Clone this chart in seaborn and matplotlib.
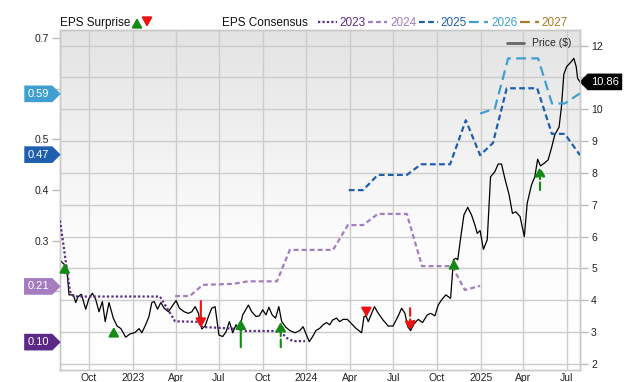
import matplotlib

matplotlib.use("Agg")

import matplotlib.dates as mdates
import matplotlib.pyplot as plt
import numpy as np
import pandas as pd
import seaborn as sns
from matplotlib.colors import LinearSegmentedColormap
from matplotlib.lines import Line2D
from matplotlib.path import Path
from matplotlib.transforms import blended_transform_factory


# weekly-ish closing price
price_dates = [
    "2022-08-01", "2022-08-04", "2022-08-15", "2022-08-20", "2022-08-29", "2022-09-03", "2022-09-08",
    "2022-09-15", "2022-09-24", "2022-10-01", "2022-10-08", "2022-10-15", "2022-10-22", "2022-10-29",
    "2022-11-04", "2022-11-12", "2022-11-21", "2022-11-29", "2022-12-07", "2022-12-17", "2022-12-26",
    "2023-01-06", "2023-01-14", "2023-01-20", "2023-01-28", "2023-02-04", "2023-02-10", "2023-02-15",
    "2023-02-22", "2023-03-01", "2023-03-08", "2023-03-17", "2023-03-24", "2023-04-02", "2023-04-09",
    "2023-04-19", "2023-04-28", "2023-05-05", "2023-05-12", "2023-05-19", "2023-05-26", "2023-06-02",
    "2023-06-09", "2023-06-16", "2023-06-23", "2023-07-01", "2023-07-09", "2023-07-16", "2023-07-23",
    "2023-07-30", "2023-08-06", "2023-08-13", "2023-08-20", "2023-09-01", "2023-09-08", "2023-09-17",
    "2023-09-24", "2023-10-01", "2023-10-08", "2023-10-14", "2023-10-21", "2023-10-28", "2023-11-04",
    "2023-11-10", "2023-11-19", "2023-11-27", "2023-12-08", "2023-12-18", "2023-12-25",
    "2024-01-01", "2024-01-07", "2024-01-14", "2024-01-21", "2024-01-29", "2024-02-05", "2024-02-12",
    "2024-02-19", "2024-02-25", "2024-03-04", "2024-03-11", "2024-03-18", "2024-03-27", "2024-04-05",
    "2024-04-14", "2024-04-26", "2024-05-01", "2024-05-05", "2024-05-10", "2024-05-17", "2024-05-23",
    "2024-05-31", "2024-06-10", "2024-06-21", "2024-07-01", "2024-07-12", "2024-07-19", "2024-07-26",
    "2024-08-01", "2024-08-07", "2024-08-14", "2024-08-23", "2024-09-01", "2024-09-11", "2024-09-18",
    "2024-09-27", "2024-10-04", "2024-10-11", "2024-10-20", "2024-10-30", "2024-11-05", "2024-11-10",
    "2024-11-14", "2024-11-21", "2024-11-27", "2024-12-05", "2024-12-13", "2024-12-20", "2024-12-25",
    "2024-12-31",
    "2025-01-07", "2025-01-15", "2025-01-22", "2025-01-31", "2025-02-07", "2025-02-14", "2025-02-21",
    "2025-03-02", "2025-03-09", "2025-03-16", "2025-03-25", "2025-04-03", "2025-04-09", "2025-04-18",
    "2025-04-25", "2025-05-01", "2025-05-07", "2025-05-16", "2025-05-23", "2025-05-30", "2025-06-06",
    "2025-06-15", "2025-06-20", "2025-06-25", "2025-07-01", "2025-07-11", "2025-07-16", "2025-07-21",
    "2025-07-24", "2025-07-29",
]
price_values = [
    5.25, 5.21, 5.06, 4.17, 4.17, 3.93, 4.11,
    4.19, 3.72, 4.06, 4.22, 4.03, 3.64, 3.96,
    3.33, 3.93, 3.44, 3.19, 3.11, 2.84, 2.94,
    2.99, 3.11, 2.98, 3.23, 3.49, 3.93, 3.96,
    3.72, 3.93, 3.75, 3.64, 3.80, 3.99, 3.75,
    3.64, 3.59, 3.64, 3.80, 3.59, 3.10, 3.19,
    3.49, 3.75, 3.80, 2.91, 2.86, 3.01, 3.33,
    2.98, 3.23, 3.07, 3.54, 3.85, 3.64, 3.49,
    3.51, 3.70, 3.54, 3.78, 3.54, 3.44, 3.80,
    3.33, 3.15, 3.05, 2.98, 3.05, 3.17,
    2.91, 2.70, 2.86, 3.05, 3.12, 3.23, 3.30,
    3.23, 3.38, 3.44, 3.33, 3.40, 3.40, 3.26,
    3.12, 2.98, 3.49, 3.51, 3.33, 3.59, 3.80,
    3.59, 3.38, 3.19, 3.19, 3.51, 3.75, 3.59,
    3.17, 3.05, 3.26, 3.40, 3.30, 3.54, 3.59,
    3.51, 3.85, 4.01, 4.17, 4.06, 5.27, 5.32,
    5.27, 6.05, 6.68, 6.92, 6.68, 6.37, 6.10,
    6.19,
    5.60, 5.90, 7.88, 8.04, 8.28, 8.28, 7.83,
    7.31, 6.73, 6.78, 6.63, 6.00, 7.05, 7.62,
    7.88, 8.43, 8.22, 8.32, 8.41, 8.78, 9.20,
    9.44, 10.08, 11.10, 11.34, 11.50, 11.60, 11.34,
    10.97, 10.86,
]

# EPS consensus history per fiscal year
cons_2023_dates = ["2022-08-01", "2022-08-22", "2022-08-30", "2023-02-27", "2023-03-31", "2023-05-22",
                   "2023-05-26", "2023-08-12", "2023-08-25", "2023-11-06", "2023-11-21", "2023-12-04",
                   "2023-12-29"]
cons_2023 = [0.34, 0.20, 0.19, 0.19, 0.141, 0.14, 0.13, 0.126, 0.122, 0.122, 0.108, 0.102, 0.102]

cons_2024_dates = ["2023-03-31", "2023-05-01", "2023-05-28", "2023-07-31", "2023-08-31", "2023-10-31",
                   "2023-11-27", "2024-02-26", "2024-03-28", "2024-04-29", "2024-05-30", "2024-07-30",
                   "2024-08-31", "2024-11-02", "2024-11-29", "2024-12-31"]
cons_2024 = [0.191, 0.191, 0.213, 0.215, 0.220, 0.220, 0.282, 0.282, 0.331, 0.331, 0.353, 0.353,
             0.250, 0.250, 0.203, 0.211]

cons_2025_dates = ["2024-03-30", "2024-04-29", "2024-05-30", "2024-07-30", "2024-08-29", "2024-10-29",
                   "2024-12-01", "2024-12-31", "2025-01-27", "2025-02-25", "2025-04-30", "2025-05-31",
                   "2025-06-27", "2025-07-29"]
cons_2025 = [0.400, 0.400, 0.430, 0.430, 0.451, 0.451, 0.538, 0.469, 0.493, 0.601, 0.601, 0.511,
             0.511, 0.469]

cons_2026_dates = ["2024-12-31", "2025-01-31", "2025-02-28", "2025-05-02", "2025-05-31", "2025-06-27",
                   "2025-07-29"]
cons_2026 = [0.551, 0.561, 0.660, 0.660, 0.571, 0.571, 0.591]

# EPS surprises: consensus -> actual
surprise_dates = ["2022-08-11", "2022-11-22", "2023-05-24", "2023-08-16", "2023-11-08", "2024-05-06",
                  "2024-08-06", "2024-11-06", "2025-05-06"]
surprise_from = [0.236, 0.114, 0.181, 0.090, 0.090, 0.163, 0.167, 0.248, 0.400]
surprise_to = [0.256, 0.130, 0.128, 0.145, 0.140, 0.149, 0.122, 0.264, 0.446]
surprise_dashed = [False, False, False, False, True, False, True, False, True]

years = ["2023", "2024", "2025", "2026", "2027"]
year_colors = ["#5b2a86", "#a47cc0", "#1f5fae", "#3f9fd0", "#a87b2c"]
year_styles = [(0, (1, 1)), (0, (2.2, 1.4)), (0, (2.6, 1.5)), (0, (4.4, 2.4)), (0, (4.4, 2.4))]

eps_ticks = [0.1, 0.2, 0.3, 0.4, 0.5, 0.6, 0.7]
eps_tags = [0.59, 0.47, 0.21, 0.10]
eps_tag_colors = ["#3f9fd0", "#1f5fae", "#a47cc0", "#5b2a86"]
price_ticks = list(range(2, 13))
last_price = 10.86

UP, DOWN = "#138a13", "#ee1111"
PRICE_LIM = (1.81, 12.49)
EPS_LIM = (0.045, 0.716)


def tag_box(pointing):
    """Box with a pointed end, used for the value tags at the axes edges."""
    def style(x0, y0, width, height, mutation_size):
        pad = 0.3 * mutation_size
        x0, y0 = x0 - pad, y0 - pad
        x1, y1 = x0 + width + 2 * pad, y0 + height + 2 * pad
        tip = (y1 - y0) / 2
        ym = (y0 + y1) / 2
        if pointing == "right":
            verts = [(x0, y0), (x1, y0), (x1 + tip, ym), (x1, y1), (x0, y1), (x0, y0)]
        else:
            verts = [(x0, y0), (x1, y0), (x1, y1), (x0, y1), (x0 - tip, ym), (x0, y0)]
        return Path(verts, closed=True)
    return style


def quarter_label(value, pos):
    d = mdates.num2date(value)
    return str(d.year) if d.month == 1 else d.strftime("%b")


def hidden_under(ticks, tags, fmt, gap):
    # tick labels that sit behind a value tag are left blank
    return ["" if any(abs(t - v) < gap for v in tags) else fmt.format(t) for t in ticks]


sns.set_theme(style="white")
plt.rcParams["font.family"] = ["Liberation Sans", "DejaVu Sans"]

fig = plt.figure(figsize=(6.4, 3.82), dpi=100)
ax = fig.add_axes([60 / 640, 12 / 382, 520 / 640, 340 / 382])
ax2 = ax.twinx()

# grey-to-white plot background
bg = LinearSegmentedColormap.from_list("bg", [(0, "#ffffff"), (0.4, "#fcfcfc"), (1, "#e3e3e3")])
ax.imshow(np.linspace(0, 1, 256).reshape(-1, 1), extent=(0, 1, 0, 1), origin="lower",
          transform=ax.transAxes, cmap=bg, aspect="auto", zorder=0)

price = pd.DataFrame({"date": pd.to_datetime(price_dates), "price": price_values})
sns.lineplot(data=price, x="date", y="price", ax=ax, color="black", lw=0.9, zorder=3)

ax.set_xlim(pd.Timestamp("2022-08-01"), pd.Timestamp("2025-07-29"))
ax.set_ylim(*PRICE_LIM)
ax.set_yticks(price_ticks, hidden_under(price_ticks, [last_price], "{}", 0.3))
ax.set_xticks(pd.date_range("2022-10-01", "2025-07-01", freq="QS"))
ax.xaxis.set_major_formatter(plt.FuncFormatter(quarter_label))
ax.set_xlabel("")
ax.set_ylabel("")
ax.set_axisbelow(True)
ax.grid(True, color="#cccccc", lw=1)

consensus = [(cons_2023_dates, cons_2023), (cons_2024_dates, cons_2024),
             (cons_2025_dates, cons_2025), (cons_2026_dates, cons_2026)]
for (dates, values), color, style in zip(consensus, year_colors, year_styles):
    frame = pd.DataFrame({"date": pd.to_datetime(dates), "eps": values})
    sns.lineplot(data=frame, x="date", y="eps", ax=ax2, color=color, lw=1.6, linestyle=style, zorder=4)

ax2.set_ylim(*EPS_LIM)
ax2.set_yticks(eps_ticks, hidden_under(eps_ticks, eps_tags, "{:.1f}", 0.025))
ax2.set_ylabel("")

# price scale on the right, EPS scale on the left
ax.yaxis.tick_right()
ax2.yaxis.tick_left()
ax.tick_params(axis="y", left=False, right=True, labelleft=False, labelright=True, length=6, width=1,
               color="#bbbbbb", pad=2, labelsize=7.5, labelcolor="#222222")
ax.tick_params(axis="x", length=0, pad=2, labelsize=7.5, labelcolor="#222222")
ax2.tick_params(axis="y", left=True, right=False, labelleft=True, labelright=False, length=6, width=1,
                color="#bbbbbb", pad=2, labelsize=7.5, labelcolor="#222222")

for a in (ax, ax2):
    for spine in a.spines.values():
        spine.set_color("#c8c8c8")
        spine.set_linewidth(1)

for d, lo, hi, dashed in zip(surprise_dates, surprise_from, surprise_to, surprise_dashed):
    color = UP if hi > lo else DOWN
    ax2.annotate("", xy=(pd.Timestamp(d), hi), xytext=(pd.Timestamp(d), lo),
                 arrowprops=dict(arrowstyle="-|>,head_length=0.45,head_width=0.25", color=color,
                                 lw=1.5, ls="--" if dashed else "-", shrinkA=0, shrinkB=0),
                 zorder=5)

# value tags on both sides
left_edge = blended_transform_factory(ax2.transAxes, ax2.transData)
for value, color in zip(eps_tags, eps_tag_colors):
    ax2.annotate(f"{value:.2f}", xy=(0, value), xycoords=left_edge, xytext=(-11, 0),
                 textcoords="offset pixels", ha="right", va="center", color="white", fontsize=8,
                 bbox=dict(boxstyle=tag_box("right"), fc=color, ec="none"),
                 annotation_clip=False, zorder=7)

right_edge = blended_transform_factory(ax.transAxes, ax.transData)
ax.annotate(f"{last_price:.2f}", xy=(1, last_price), xycoords=right_edge,
            xytext=(11, 0), textcoords="offset pixels", ha="left", va="center", color="white",
            fontsize=8, bbox=dict(boxstyle=tag_box("left"), fc="black", ec="none"),
            annotation_clip=False, zorder=7)

# price legend inside the plot
ax2.legend(handles=[Line2D([], [], color="#666666", lw=2)], labels=["Price ($)"], loc="upper right",
           frameon=False, fontsize=7.5, handlelength=1.6, handletextpad=0.8, borderaxespad=0.4)

# header legend
fig.text(60 / 640, 1 - 23 / 382, "EPS Surprise", fontsize=8.5, va="center", color="#111111")
fig.text(222 / 640, 1 - 23 / 382, "EPS Consensus", fontsize=8.5, va="center", color="#111111")
for x, color, up in [(137, UP, True), (147, DOWN, False)]:
    lo, hi = 355, 364
    ax.annotate("", xy=(x, hi if up else lo), xytext=(x, lo if up else hi), xycoords="figure pixels",
                arrowprops=dict(arrowstyle="-|>,head_length=0.45,head_width=0.25", color=color, lw=1.5,
                                shrinkA=0, shrinkB=0),
                annotation_clip=False)

handles = [Line2D([], [], color=c, lw=1.6, linestyle=s) for c, s in zip(year_colors, year_styles)]
fig.legend(handles, years, loc="center left", bbox_to_anchor=(318 / 640, 1 - 23 / 382), ncol=5,
           frameon=False, fontsize=8.5, handlelength=1.6, handletextpad=0.25, columnspacing=0.2,
           borderpad=0, borderaxespad=0, labelcolor=year_colors)

fig.savefig("out.png", dpi=100)
